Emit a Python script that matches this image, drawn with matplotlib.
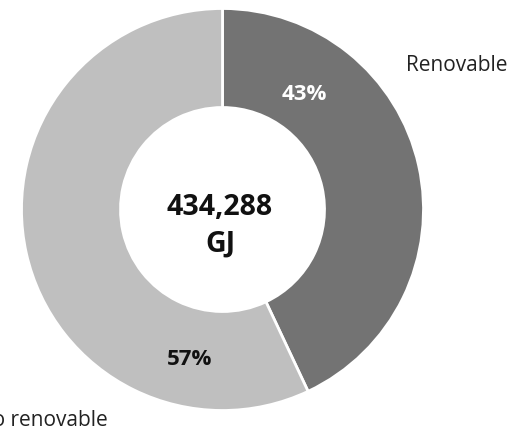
import matplotlib.pyplot as plt

plt.rcParams['font.family'] = ['Open Sans', 'DejaVu Sans']

labels = ['Renovable', 'No renovable']
values = [43, 57]
colors = ['#737373', '#bfbfbf']
total = '434,288'
unit = 'GJ'

W, H = 514, 433
fig = plt.figure(figsize=(W / 100, H / 100), dpi=100)
ax = fig.add_axes([0, 0, 1, 1])

# pixel-like coordinates, y measured from the bottom
cx, cy = 222.5, H - 209.5
r_out, r_in = 201, 102

ax.pie(values, colors=colors, startangle=90, counterclock=False,
       center=(cx, cy), radius=r_out, frame=True,
       wedgeprops=dict(width=r_out - r_in, edgecolor='white', linewidth=2))
ax.set_xlim(0, W)
ax.set_ylim(0, H)
ax.set_aspect('equal')
ax.axis('off')

# percentage labels
ax.text(304, H - 100, f'{values[0]}%', color='white', fontsize=16, fontweight='bold',
        ha='center', va='baseline')
ax.text(190, H - 365, f'{values[1]}%', color='#111111', fontsize=16, fontweight='bold',
        ha='center', va='baseline')

# category labels
ax.text(508, H - 71, labels[0], color='#222222', fontsize=15, ha='right', va='baseline')
ax.text(108, H - 426, labels[1], color='#222222', fontsize=15, ha='right', va='baseline')

# total in the hole
ax.text(220, H - 215, total, color='#111111', fontsize=20.5, fontweight='bold',
        ha='center', va='baseline')
ax.text(220, H - 252, unit, color='#111111', fontsize=20.5, fontweight='bold',
        ha='center', va='baseline')

fig.savefig('out.png', dpi=100)
